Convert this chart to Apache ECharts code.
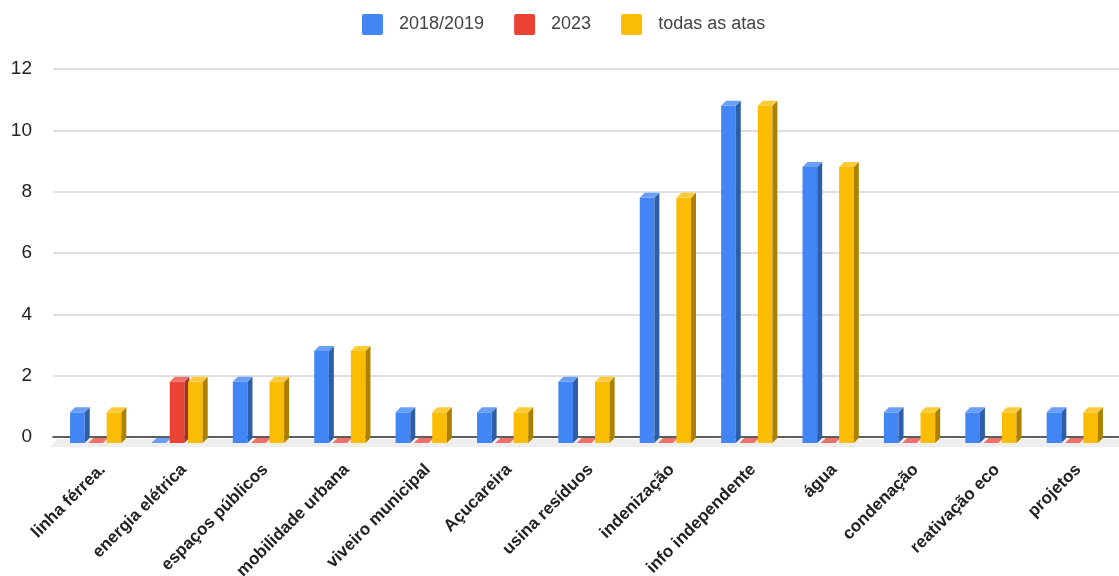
<!DOCTYPE html>
<html>
<head>
<meta charset="utf-8">
<script src="https://cdn.jsdelivr.net/npm/echarts@6/dist/echarts.min.js"></script>
<style>
  html, body { margin: 0; padding: 0; background: #fff; }
  #chart { width: 1119px; height: 576px; }
</style>
</head>
<body>
<div id="chart"></div>
<script>
const categories = ['linha férrea.', 'energia elétrica', 'espaços públicos', 'mobilidade urbana',
  'viveiro municipal', 'Açucareira', 'usina resíduos', 'indenização', 'info independente',
  'água', 'condenação', 'reativação eco', 'projetos'];
const seriesNames = ['2018/2019', '2023', 'todas as atas'];
const values2018 = [1, 0, 2, 3, 1, 1, 2, 8, 11, 9, 1, 1, 1];
const values2023 = [0, 2, 0, 0, 0, 0, 0, 0, 0, 0, 0, 0, 0];
const valuesTodas = [1, 2, 2, 3, 1, 1, 2, 8, 11, 9, 1, 1, 1];
const yTicks = [0, 2, 4, 6, 8, 10, 12];

const font = "'Liberation Sans', Arial, sans-serif";
// front / side / top colours per series
const faces = [
  { front: '#4285f4', side: '#2f5ea9', top: '#6a9ff6' },
  { front: '#ea4335', side: '#a5302a', top: '#f0706a' },
  { front: '#fbbc04', side: '#ac8100', top: '#fccb35' }
];
const DROP = 6;   // front face sits lower than back wall
const DEPTH = 5;  // 3d depth

function barRenderer(k) {
  const c = faces[k];
  return function (params, api) {
    const i = api.value(0), v = api.value(1);
    const catW = api.size([1, 0])[0];
    const slot = catW * 0.225, w = catW * 0.18, d = DEPTH;
    const p0 = api.coord([i, 0]), p1 = api.coord([i, v]);
    const x0 = p0[0] + (k - 1) * slot - w / 2;
    const yb = p0[1] + DROP, yt = p1[1] + DROP;
    if (v === 0) {
      return {
        type: 'polygon',
        shape: { points: [[x0, yb], [x0 + w, yb], [x0 + w + d, yb - d], [x0 + d, yb - d]] },
        style: { fill: c.top }
      };
    }
    return {
      type: 'group',
      children: [
        { type: 'rect', shape: { x: x0, y: yt, width: w, height: yb - yt }, style: { fill: c.front } },
        { type: 'polygon', shape: { points: [[x0 + w, yt], [x0 + w + d, yt - d], [x0 + w + d, yb - d], [x0 + w, yb]] },
          style: { fill: c.side } },
        { type: 'polygon', shape: { points: [[x0, yt], [x0 + d, yt - d], [x0 + w + d, yt - d], [x0 + w, yt]] },
          style: { fill: c.top } }
      ]
    };
  };
}

const chart = echarts.init(document.getElementById('chart'));
const allValues = [values2018, values2023, valuesTodas];

const option = {
  animation: false,
  legend: {
    top: 14,
    left: 362,
    padding: 0,
    itemWidth: 21,
    itemHeight: 21,
    itemGap: 30,
    icon: 'path://M2,0 L19,0 Q21,0 21,2 L21,19 Q21,21 19,21 L2,21 Q0,21 0,19 L0,2 Q0,0 2,0 Z',
    data: seriesNames,
    textStyle: { fontFamily: font, fontSize: 18, color: '#444', padding: [0, 0, 0, 11] }
  },
  graphic: [{
    type: 'polygon',
    z: -1,
    shape: { points: [[58, 439], [1119, 439], [1119, 447], [50, 447]] },
    style: { fill: '#eeeeee' }
  }],
  grid: [
    { left: 53, right: 0, top: 69, bottom: 139, outerBoundsMode: 'none' },
    { left: 55, right: 6, top: 69, bottom: 139, outerBoundsMode: 'none' },
    // labels only, a bit right like the perspective labels
    { left: 62, right: 0, top: 69, bottom: 139, outerBoundsMode: 'none' }
  ],
  xAxis: [
    { gridIndex: 0, type: 'category', data: categories,
      axisLine: { lineStyle: { color: '#333', width: 1.5 } },
      axisTick: { show: false }, axisLabel: { show: false } },
    { gridIndex: 1, type: 'category', data: categories,
      axisLine: { show: false }, axisTick: { show: false }, axisLabel: { show: false } },
    { gridIndex: 2, type: 'category', data: categories,
      axisLine: { show: false }, axisTick: { show: false },
      axisLabel: { rotate: 45, margin: 30, interval: 0, fontFamily: font, fontSize: 17,
        fontWeight: 'bold', color: '#222' } }
  ],
  yAxis: [
    { gridIndex: 0, type: 'value', min: yTicks[0], max: yTicks[yTicks.length - 1], interval: 2,
      axisLine: { show: false }, axisTick: { show: false },
      axisLabel: { margin: 21, fontFamily: font, fontSize: 19, color: '#222' },
      splitLine: { lineStyle: { color: '#d4d4d4', width: 1.5 } } },
    { gridIndex: 1, type: 'value', min: yTicks[0], max: yTicks[yTicks.length - 1], interval: 2,
      show: false, splitLine: { show: false } },
    { gridIndex: 2, type: 'value', min: 0, max: 12, show: false, splitLine: { show: false } }
  ],
  series: allValues.map((vals, k) => ({
    name: seriesNames[k],
    type: 'custom',
    xAxisIndex: 1,
    yAxisIndex: 1,
    itemStyle: { color: faces[k].front },
    renderItem: barRenderer(k),
    encode: { x: 0, y: 1 },
    data: vals.map((v, i) => [i, v])
  }))
};

chart.setOption(option);
</script>
</body>
</html>
